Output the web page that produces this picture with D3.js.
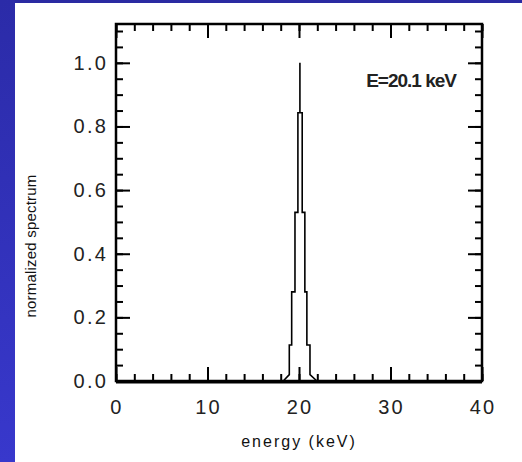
<!DOCTYPE html>
<html lang="en">
<head>
	<meta charset="UTF-8"/>
	<title>normalized spectrum</title>
	<style type="text/css">
		body {
			margin: 0;
			background: #ffffff;
		}
		svg {
			display: block;
		}
		.tick_label {
			font-family: "Liberation Sans", Arial, sans-serif;
			font-size: 20px;
			letter-spacing: 2.2px;
			fill: #222222;
		}
		.axis_title {
			font-family: "Liberation Sans", Arial, sans-serif;
			fill: #111111;
		}
		.energy_label {
			font-family: "Liberation Sans", Arial, sans-serif;
			font-size: 19px;
			font-weight: bold;
			letter-spacing: -1px;
			fill: #222222;
		}
	</style>
</head>
<body>
	<svg width="522" height="462"></svg>
<script src="https://cdn.jsdelivr.net/npm/d3@7"></script>
<script type='text/javascript'>
	// spectrum outline (energy in keV, normalized value)
	const energy = [18.28, 18.94, 18.94, 19.2, 19.2, 19.56, 19.56, 19.88, 19.88, 20.1, 20.1, 20.1, 20.35, 20.35, 20.64, 20.64, 20.86, 20.86, 21.2, 21.2, 21.96];
	const spectrum = [0, 0.02, 0.113, 0.113, 0.28, 0.28, 0.53, 0.53, 0.843, 0.843, 1.0, 0.843, 0.843, 0.53, 0.53, 0.28, 0.28, 0.113, 0.113, 0.02, 0];

	const xMajor = [0, 10, 20, 30, 40];
	const xMinor = d3.range(0, 40.01, 2);
	const yMajor = [0, 0.2, 0.4, 0.6, 0.8, 1.0];
	const yMinor = d3.range(0, 1.101, 0.05);

	const peakLabel = 'E=20.1 keV';

	const svg = d3.select('svg');

	// blue slide border
	const grad = svg.append('defs').append('linearGradient')
		.attr('id', 'blue_grad')
		.attr('x1', 0).attr('y1', 0).attr('x2', 0).attr('y2', 1);
	grad.append('stop').attr('offset', '0%').attr('stop-color', '#2b2ba8');
	grad.append('stop').attr('offset', '100%').attr('stop-color', '#3838cc');

	svg.append('rect').attr('x', 0).attr('y', 0).attr('width', 522).attr('height', 3).attr('fill', '#2a2aa2');
	svg.append('rect').attr('x', 0).attr('y', 0).attr('width', 15).attr('height', 462).attr('fill', 'url(#blue_grad)');

	const pLeft = 116, pRight = 482, pTop = 24, pBottom = 381;

	const xScale = d3.scaleLinear().domain([0, 40]).range([pLeft, pRight]);
	const yScale = d3.scaleLinear().domain([0, 1.122]).range([pBottom, pTop]);

	const plot = svg.append('g');

	// ticks, pointing inward on all four sides
	const tickSides = [
		{axis: d3.axisBottom(xScale), at: `translate(0, ${pBottom})`, major: xMajor, minor: xMinor},
		{axis: d3.axisTop(xScale), at: `translate(0, ${pTop})`, major: xMajor, minor: xMinor},
		{axis: d3.axisLeft(yScale), at: `translate(${pLeft}, 0)`, major: yMajor, minor: yMinor},
		{axis: d3.axisRight(yScale), at: `translate(${pRight}, 0)`, major: yMajor, minor: yMinor}
	];

	tickSides.forEach((s) => {
		plot.append('g')
			.attr('transform', s.at)
			.call(s.axis.tickValues(s.minor).tickSize(-7).tickFormat(''))
			.call((g) => g.select('.domain').remove())
			.selectAll('line').attr('stroke', '#000').attr('stroke-width', 2);
		plot.append('g')
			.attr('transform', s.at)
			.call(s.axis.tickValues(s.major).tickSize(-14).tickFormat(''))
			.call((g) => g.select('.domain').remove())
			.selectAll('line').attr('stroke', '#000').attr('stroke-width', 2);
	});

	// tick labels
	plot.append('g')
		.selectAll('text')
		.data(xMajor)
		.enter()
		.append('text')
		.attr('class', 'tick_label')
		.attr('x', (d) => xScale(d) + 1)
		.attr('y', pBottom + 33)
		.attr('text-anchor', 'middle')
		.text((d) => d);

	plot.append('g')
		.selectAll('text')
		.data(yMajor)
		.enter()
		.append('text')
		.attr('class', 'tick_label')
		.attr('x', 108)
		.attr('y', (d) => yScale(d) + 7)
		.attr('text-anchor', 'end')
		.text((d) => d.toFixed(1));

	// spectrum
	const points = energy.map((e, i) => [e, spectrum[i]]);
	plot.append('path')
		.datum(points)
		.attr('fill', 'none')
		.attr('stroke', '#000')
		.attr('stroke-width', 1.6)
		.attr('d', d3.line().x((d) => xScale(d[0])).y((d) => yScale(d[1])));

	// frame
	plot.append('rect')
		.attr('x', pLeft)
		.attr('y', pTop)
		.attr('width', pRight - pLeft)
		.attr('height', pBottom - pTop)
		.attr('fill', 'none')
		.attr('stroke', '#000')
		.attr('stroke-width', 2.5);

	plot.append('line')
		.attr('x1', pLeft).attr('x2', pRight)
		.attr('y1', pBottom + 1).attr('y2', pBottom + 1)
		.attr('stroke', '#000')
		.attr('stroke-width', 3);

	// labels
	svg.append('text')
		.attr('class', 'energy_label')
		.attr('x', 456)
		.attr('y', 87)
		.attr('text-anchor', 'end')
		.text(peakLabel);

	svg.append('text')
		.attr('class', 'axis_title')
		.attr('x', 299)
		.attr('y', 447)
		.attr('text-anchor', 'middle')
		.style('font-size', '16px')
		.style('letter-spacing', '2px')
		.text('energy (keV)');

	svg.append('text')
		.attr('class', 'axis_title')
		.attr('transform', 'translate(36, 246) rotate(-90)')
		.attr('text-anchor', 'middle')
		.style('font-size', '15px')
		.style('letter-spacing', '0.2px')
		.text('normalized spectrum');
</script>
</body>
</html>
